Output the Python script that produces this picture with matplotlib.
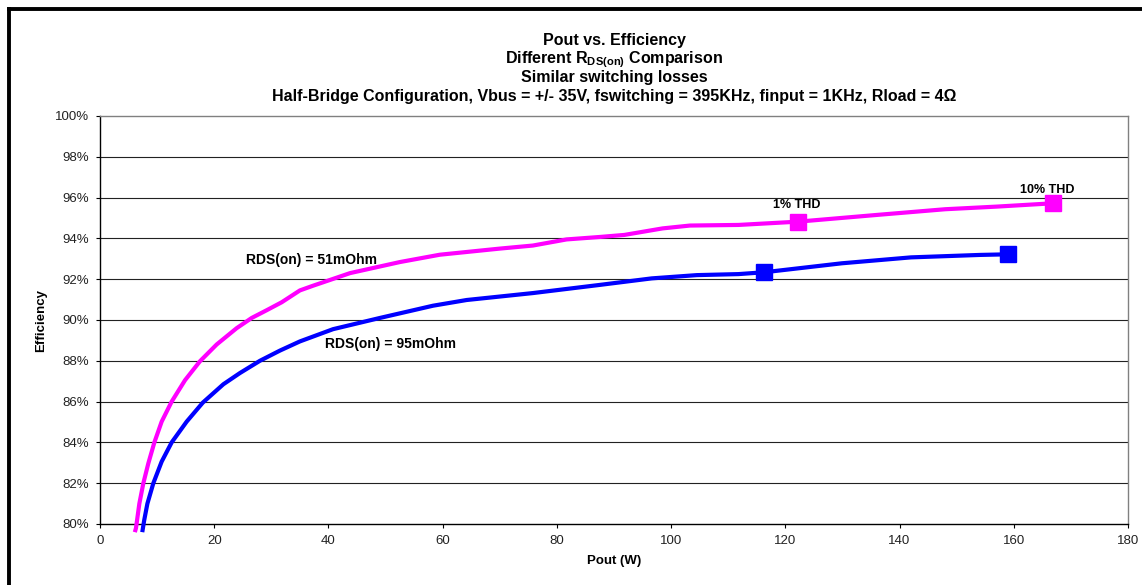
import matplotlib
matplotlib.use("Agg")
import matplotlib.pyplot as plt
from matplotlib.lines import Line2D
from matplotlib.ticker import FuncFormatter

plt.rcParams['font.family'] = ['Liberation Sans', 'DejaVu Sans']
plt.rcParams['mathtext.fontset'] = 'custom'
plt.rcParams['mathtext.rm'] = 'Liberation Sans:bold'
plt.rcParams['mathtext.bf'] = 'Liberation Sans:bold'

# RDS(on) = 51 mOhm  (Pout in W, efficiency in %)
pout_51 = [6.1, 6.3, 6.89, 7.59, 8.46, 9.52, 10.8, 12.55, 14.89, 17.51, 20.43,
           23.93, 26.56, 29.19, 31.82, 35.0, 37.3, 43.8, 52.5, 59.5, 70.0,
           75.8, 81.7, 87.5, 91.8, 98.5, 103.3, 111.8, 122.2, 136.0, 148.0,
           157.1, 166.8]
eff_51 = [79.6, 79.8, 81.0, 82.0, 82.97, 84.0, 85.02, 86.0, 87.05, 87.98, 88.8,
          89.6, 90.1, 90.48, 90.87, 91.45, 91.68, 92.3, 92.84, 93.2, 93.5,
          93.65, 93.95, 94.07, 94.17, 94.49, 94.63, 94.66, 94.82, 95.15, 95.43,
          95.56, 95.72]

# RDS(on) = 95 mOhm
pout_95 = [7.4, 7.75, 8.3, 9.34, 10.8, 12.55, 15.18, 18.0, 21.6, 24.5, 28.0,
           31.5, 35.0, 40.8, 49.0, 58.3, 64.2, 75.8, 87.5, 96.6, 104.5, 111.8,
           116.3, 129.9, 142.0, 154.1, 159.0]
eff_95 = [79.6, 80.2, 81.0, 82.0, 83.06, 84.0, 85.02, 85.95, 86.85, 87.4, 88.0,
          88.5, 88.95, 89.55, 90.1, 90.7, 90.98, 91.32, 91.72, 92.04, 92.2,
          92.25, 92.34, 92.78, 93.07, 93.19, 93.22]

# THD markers (1% and 10%)
thd_pout_51 = [122.2, 166.8]
thd_eff_51 = [94.82, 95.72]
thd_pout_95 = [116.3, 159.0]
thd_eff_95 = [92.34, 93.22]
thd_labels = ['1% THD', '10% THD']

x_ticks = list(range(0, 181, 20))
y_ticks = list(range(80, 101, 2))

fig = plt.figure(figsize=(11.42, 5.85), dpi=100)
ax = fig.add_axes([100 / 1142, 1 - 524 / 585, 1028 / 1142, 408 / 585])

for y in y_ticks[1:-1]:
    ax.axhline(y, color='#222222', lw=0.8, zorder=1)

ax.plot(pout_51, eff_51, color='#FF00FF', lw=3, zorder=3, clip_on=False,
        solid_capstyle='butt', solid_joinstyle='round')
ax.plot(pout_95, eff_95, color='#0000FF', lw=3, zorder=3, clip_on=False,
        solid_capstyle='butt', solid_joinstyle='round')
ax.plot(thd_pout_51, thd_eff_51, 's', color='#FF00FF', ms=11, zorder=4,
        clip_on=False)
ax.plot(thd_pout_95, thd_eff_95, 's', color='#0000FF', ms=11, zorder=4,
        clip_on=False)

ax.set_xlim(0, 180)
ax.set_ylim(80, 100)
ax.set_xticks(x_ticks)
ax.set_yticks(y_ticks)
ax.yaxis.set_major_formatter(FuncFormatter(lambda v, p: '%d%%' % v))
ax.tick_params(direction='out', length=3, width=0.8, labelsize=9.5,
               pad=5, colors='black', labelcolor='#222222')

for side in ['left', 'bottom']:
    ax.spines[side].set_color('black')
    ax.spines[side].set_linewidth(1.0)
for side in ['top', 'right']:
    ax.spines[side].set_color('#808080')
    ax.spines[side].set_linewidth(1.0)

ax.set_xlabel('Pout (W)', fontsize=9.5, fontweight='bold')
ax.xaxis.set_label_coords(0.5, -(555 - 524) / 408)
ax.set_ylabel('Efficiency', fontsize=9.5, fontweight='bold')
ax.yaxis.set_label_coords(-(100 - 47) / 1028, 0.5)

# curve labels
ax.text(25.5, 92.94, 'RDS(on) = 51mOhm', fontsize=10, fontweight='bold',
        ha='left', va='center')
ax.text(39.4, 88.82, 'RDS(on) = 95mOhm', fontsize=10, fontweight='bold',
        ha='left', va='center')
ax.text(122.0, 95.62, thd_labels[0], fontsize=9, fontweight='bold',
        ha='center', va='center')
ax.text(165.9, 96.37, thd_labels[1], fontsize=9, fontweight='bold',
        ha='center', va='center')

# title block (baselines in pixels from the top)
cx = 614 / 1142
title_lines = ['Pout vs. Efficiency',
               r'Different R$_{\mathbf{DS(on)}}$ Comparison',
               'Similar switching losses',
               'Half-Bridge Configuration, Vbus = +/- 35V, fswitching = 395KHz, '
               'finput = 1KHz, Rload = 4\u03a9']
title_base = [45, 63, 82, 101]
for t, yy in zip(title_lines, title_base):
    fig.text(cx, 1 - yy / 585, t, fontsize=11.5, fontweight='bold',
             ha='center', va='baseline')

# outer frame (left and top edges)
fx = 8.5 / 1142
fy = 1 - 8.5 / 585
fig.add_artist(Line2D([fx, fx], [0, fy], color='black', lw=2.8,
                      transform=fig.transFigure, solid_capstyle='projecting'))
fig.add_artist(Line2D([fx, 1], [fy, fy], color='black', lw=2.8,
                      transform=fig.transFigure, solid_capstyle='projecting'))

fig.savefig('out.png', dpi=100)
